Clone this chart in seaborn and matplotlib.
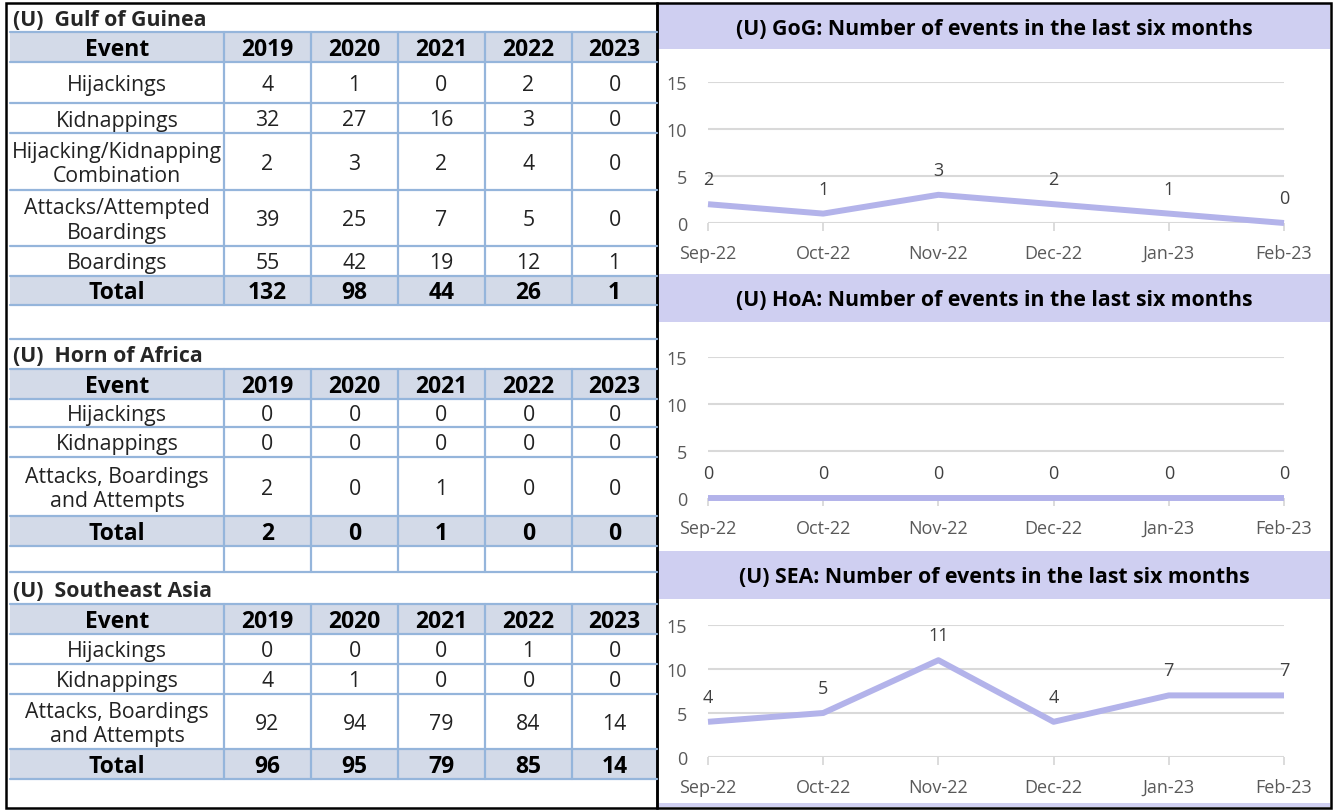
import matplotlib.pyplot as plt
import matplotlib.patches as patches
import seaborn as sns

sns.set_theme(style='white')
plt.rcParams['font.family'] = ['Open Sans', 'DejaVu Sans']

# ---- table data ----
years = ['2019', '2020', '2021', '2022', '2023']

gog_events = ['Hijackings', 'Kidnappings', 'Hijacking/Kidnapping\nCombination',
              'Attacks/Attempted\nBoardings', 'Boardings']
gog_counts = [[4, 1, 0, 2, 0],
              [32, 27, 16, 3, 0],
              [2, 3, 2, 4, 0],
              [39, 25, 7, 5, 0],
              [55, 42, 19, 12, 1]]
gog_total = [132, 98, 44, 26, 1]

hoa_events = ['Hijackings', 'Kidnappings', 'Attacks, Boardings\nand Attempts']
hoa_counts = [[0, 0, 0, 0, 0],
              [0, 0, 0, 0, 0],
              [2, 0, 1, 0, 0]]
hoa_total = [2, 0, 1, 0, 0]

sea_events = ['Hijackings', 'Kidnappings', 'Attacks, Boardings\nand Attempts']
sea_counts = [[0, 0, 0, 1, 0],
              [4, 1, 0, 0, 0],
              [92, 94, 79, 84, 14]]
sea_total = [96, 95, 79, 85, 14]

# ---- last six months ----
months = ['Sep-22', 'Oct-22', 'Nov-22', 'Dec-22', 'Jan-23', 'Feb-23']
gog_recent = [2, 1, 3, 2, 1, 0]
hoa_recent = [0, 0, 0, 0, 0, 0]
sea_recent = [4, 5, 11, 4, 7, 7]

W, H = 1333, 812
HEAD_FILL = '#d3dae8'
GRID_BLUE = '#95b5db'
BAND = '#cfcff1'
LINE = '#b3b3ea'

fig = plt.figure(figsize=(W / 100, H / 100), dpi=100)
bg = fig.add_axes([0, 0, 1, 1])
bg.set_xlim(0, W)
bg.set_ylim(H, 0)
bg.axis('off')

cols = [10, 224, 311, 398, 485, 572, 657]


def draw_table(title, title_y, edges, events, counts, total):
    bg.text(13, title_y, '(U)  ' + title, fontsize=15.3, fontweight='bold', va='center')
    top, bottom = edges[0], edges[-1]
    for y0, y1 in [(edges[0], edges[1]), (edges[-2], edges[-1])]:
        bg.add_patch(patches.Rectangle((cols[0], y0), cols[-1] - cols[0], y1 - y0,
                                       color=HEAD_FILL, lw=0))
    for y in edges:
        bg.plot([cols[0], cols[-1]], [y, y], color=GRID_BLUE, lw=1.6)
    for x in cols[1:-1]:
        bg.plot([x, x], [top, bottom], color=GRID_BLUE, lw=1.6)
    centers = [(a + b) / 2 for a, b in zip(cols[:-1], cols[1:])]
    rows = [['Event'] + years] + [[e] + c for e, c in zip(events, counts)] + [['Total'] + total]
    for i, row in enumerate(rows):
        yc = (edges[i] + edges[i + 1]) / 2
        bold = i == 0 or i == len(rows) - 1
        for xc, val in zip(centers, row):
            bg.text(xc, yc + 2, str(val), ha='center', va='center',
                    fontsize=16.5 if bold else 15.3,
                    fontweight='bold' if bold else 'normal', linespacing=1.2,
                    color='black' if bold else '#222222')


draw_table('Gulf of Guinea', 20, [33, 63, 104, 134, 191, 247, 277, 306],
           gog_events, gog_counts, gog_total)
bg.plot([cols[0], cols[-1]], [340, 340], color=GRID_BLUE, lw=1.6)
draw_table('Horn of Africa', 357, [370, 400, 428, 458, 517, 547],
           hoa_events, hoa_counts, hoa_total)
# empty spacer row
for x in cols[1:-1]:
    bg.plot([x, x], [547, 573], color=GRID_BLUE, lw=1.6)
bg.plot([cols[0], cols[-1]], [573, 573], color=GRID_BLUE, lw=1.6)
draw_table('Southeast Asia', 592, [605, 635, 665, 695, 750, 780],
           sea_events, sea_counts, sea_total)

# right panel bands
bands = [(5, 50, 'GoG'), (275, 323, 'HoA'), (552, 600, 'SEA')]
for y0, y1, name in bands:
    bg.add_patch(patches.Rectangle((659, y0), 671, y1 - y0, color=BAND, lw=0))
    bg.text(994, (y0 + y1) / 2 + 2, f'(U) {name}: Number of events in the last six months',
            ha='center', va='center', fontsize=15.3, fontweight='bold', color='black')
bg.add_patch(patches.Rectangle((659, 804), 671, 4, color=BAND, lw=0))

# outer frames
bg.add_patch(patches.Rectangle((6, 4), 651, 805, fill=False, ec='black', lw=1.8))
bg.add_patch(patches.Rectangle((657, 4), 674, 805, fill=False, ec='black', lw=1.8))


def px_axes(left, top, right, bottom):
    return fig.add_axes([left / W, 1 - bottom / H, (right - left) / W, (bottom - top) / H])


charts = [(83, 224, gog_recent), (358, 499, hoa_recent), (626, 758, sea_recent)]
for top, bottom, vals in charts:
    ax = px_axes(708, top, 1284, bottom)
    ax.set_facecolor('none')
    sns.lineplot(x=months, y=vals, ax=ax, color=LINE, linewidth=4.3, zorder=3,
                 solid_capstyle='butt', clip_on=False)
    ax.set_xlim(0, 5)
    ax.set_ylim(0, 15)
    ax.set_yticks([0, 5, 10, 15])
    for s in ax.spines.values():
        s.set_visible(False)
    ax.grid(axis='y', color='#d9d9d9', lw=1.5)
    ax.grid(axis='x', visible=False)
    ax.tick_params(axis='y', length=0, pad=15, labelsize=13, labelcolor='#595959')
    ax.tick_params(axis='x', length=6, width=1.3, color='#d9d9d9', direction='out',
                   bottom=True, pad=9, labelsize=13, labelcolor='#595959')
    ax.set_xlabel('')
    ax.set_ylabel('')
    for i, v in enumerate(vals):
        ax.annotate(str(v), (i, v), xytext=(0, 18), textcoords='offset points',
                    ha='center', va='center', fontsize=13, color='#404040',
                    annotation_clip=False)

fig.savefig('out.png', dpi=100)
